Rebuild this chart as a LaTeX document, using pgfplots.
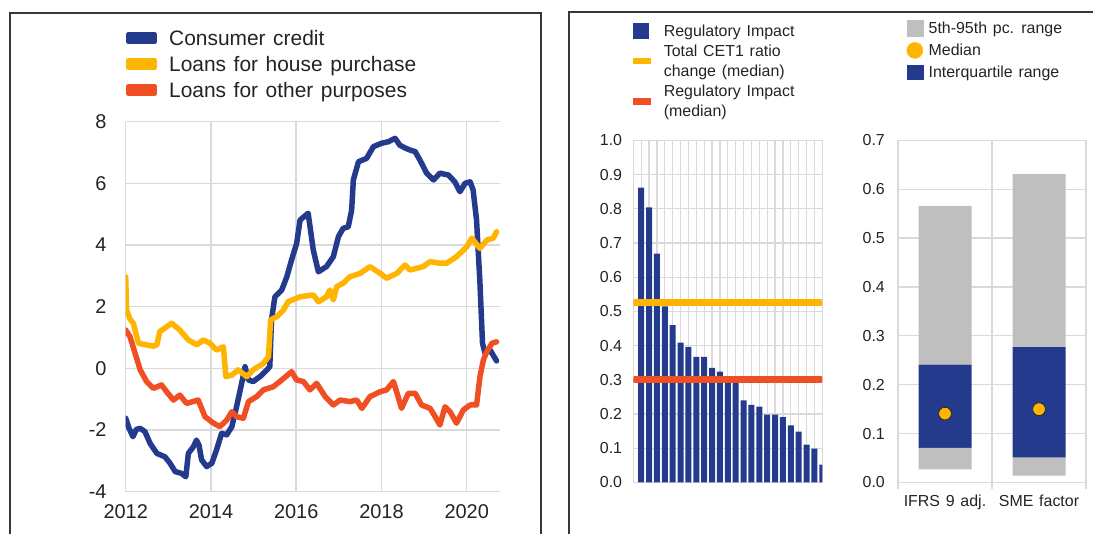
\documentclass[border=0pt]{standalone}
\usepackage{pgfplots}
\usepackage{pgfplotstable}
\pgfplotsset{compat=1.18}
\usepackage{fontspec}
\setmainfont{Liberation Sans}[WordSpace=1.3]

\definecolor{ecbblue}{RGB}{36,58,141}
\definecolor{ecbyellow}{RGB}{255,180,0}
\definecolor{ecbred}{RGB}{240,78,35}
\definecolor{rangegrey}{RGB}{191,191,191}
\definecolor{gridgrey}{RGB}{218,218,218}
\definecolor{framegrey}{RGB}{55,55,55}
\definecolor{textc}{RGB}{35,35,35}

\pgfplotstableread{
year value
2012.00 -1.62
2012.08 -1.95
2012.17 -2.22
2012.25 -1.98
2012.34 -1.95
2012.45 -2.05
2012.57 -2.43
2012.73 -2.76
2012.92 -2.87
2013.04 -3.08
2013.16 -3.35
2013.31 -3.41
2013.41 -3.52
2013.47 -2.76
2013.59 -2.54
2013.66 -2.33
2013.72 -2.50
2013.78 -2.97
2013.90 -3.19
2014.02 -3.08
2014.13 -2.65
2014.25 -2.11
2014.37 -2.16
2014.49 -1.89
2014.60 -1.25
2014.72 -0.49
2014.80 0.05
2014.88 -0.38
2014.99 -0.43
2015.15 -0.27
2015.27 -0.11
2015.38 0.05
2015.42 1.57
2015.50 2.32
2015.66 2.54
2015.78 2.97
2015.89 3.51
2016.01 4.05
2016.09 4.81
2016.28 5.03
2016.40 3.84
2016.52 3.13
2016.71 3.30
2016.87 3.62
2016.99 4.27
2017.10 4.54
2017.22 4.59
2017.30 5.13
2017.34 6.11
2017.46 6.70
2017.65 6.81
2017.81 7.19
2018.00 7.30
2018.16 7.35
2018.32 7.46
2018.43 7.24
2018.55 7.15
2018.67 7.08
2018.79 7.03
2018.90 6.76
2019.06 6.33
2019.22 6.11
2019.37 6.33
2019.57 6.27
2019.72 6.05
2019.84 5.73
2019.96 6.00
2020.08 6.05
2020.15 5.78
2020.23 4.81
2020.31 2.76
2020.37 0.81
2020.43 0.49
2020.55 0.59
2020.70 0.24
}\consumer

\pgfplotstableread{
year value
2012.00 2.97
2012.02 1.89
2012.10 1.60
2012.18 1.46
2012.30 0.81
2012.49 0.76
2012.65 0.72
2012.73 0.76
2012.80 1.19
2013.08 1.46
2013.27 1.24
2013.47 0.92
2013.67 0.76
2013.82 0.92
2013.98 0.81
2014.13 0.59
2014.29 0.70
2014.35 -0.27
2014.49 -0.22
2014.64 -0.05
2014.84 -0.27
2014.99 -0.05
2015.23 0.16
2015.35 0.38
2015.40 1.57
2015.54 1.67
2015.70 1.89
2015.81 2.16
2016.09 2.32
2016.40 2.38
2016.52 2.16
2016.71 2.32
2016.79 2.54
2016.87 2.22
2016.95 2.65
2017.10 2.76
2017.26 2.97
2017.50 3.08
2017.73 3.30
2017.97 3.08
2018.12 2.92
2018.36 3.08
2018.55 3.35
2018.67 3.19
2018.98 3.30
2019.14 3.46
2019.37 3.41
2019.53 3.41
2019.76 3.62
2020.00 3.94
2020.12 4.22
2020.31 3.89
2020.47 4.16
2020.62 4.22
2020.70 4.43
}\house

\pgfplotstableread{
year value
2012.00 1.24
2012.10 1.03
2012.22 0.49
2012.34 -0.05
2012.49 -0.43
2012.65 -0.65
2012.84 -0.54
2012.96 -0.76
2013.12 -1.03
2013.27 -0.87
2013.43 -1.14
2013.70 -1.03
2013.86 -1.57
2014.06 -1.78
2014.21 -1.89
2014.37 -1.68
2014.49 -1.41
2014.60 -1.57
2014.76 -1.62
2014.88 -1.08
2015.07 -0.92
2015.23 -0.70
2015.46 -0.60
2015.66 -0.38
2015.89 -0.11
2016.01 -0.38
2016.17 -0.43
2016.32 -0.70
2016.48 -0.49
2016.68 -0.92
2016.87 -1.19
2017.03 -1.03
2017.26 -1.08
2017.42 -1.03
2017.54 -1.30
2017.73 -0.92
2017.97 -0.76
2018.12 -0.70
2018.28 -0.43
2018.39 -0.92
2018.47 -1.30
2018.63 -0.81
2018.79 -0.81
2018.94 -1.19
2019.14 -1.30
2019.26 -1.57
2019.37 -1.84
2019.49 -1.25
2019.61 -1.41
2019.76 -1.78
2019.92 -1.35
2020.08 -1.19
2020.23 -1.19
2020.31 -0.27
2020.39 0.27
2020.47 0.54
2020.59 0.81
2020.70 0.86
}\other

\pgfplotstableread{
i v
1 0.862
2 0.804
3 0.669
4 0.515
5 0.460
6 0.409
7 0.396
8 0.367
9 0.367
10 0.335
11 0.324
12 0.300
13 0.300
14 0.240
15 0.227
16 0.222
17 0.198
18 0.198
19 0.191
20 0.167
21 0.149
22 0.111
23 0.099
24 0.052
}\bars

\pgfplotstableread{
x base low iqr high
0.5 0.027 0.044 0.170 0.325
1.5 0.014 0.037 0.226 0.354
}\ranges

\pgfplotstableread{
x median
0.5 0.141
1.5 0.150
}\medians

\begin{document}
\begin{tikzpicture}
\useasboundingbox (0bp,0bp) rectangle (1093bp,534bp);
\draw[framegrey, line width=1.5bp] (10bp,-10bp) -- (10bp,521.2bp) -- (541bp,521.2bp) -- (541bp,-10bp);
\draw[framegrey, line width=1.5bp] (569.2bp,-10bp) -- (569.2bp,522bp) -- (1110bp,522bp);

% ---------------- left panel ----------------
\begin{axis}[
  at={(125.7bp,42.4bp)}, anchor=south west,
  scale only axis, width=374.3bp, height=369.9bp,
  xmin=2012, xmax=2020.78, ymin=-4, ymax=8,
  xtick={2012,2014,2016,2018,2020}, ytick={-4,-2,0,2,4,6,8},
  axis x line*=bottom, axis y line*=left,
  axis line style={gridgrey, line width=1.5bp, -},
  grid=major, grid style={gridgrey, line width=1.5bp},
  major tick length=0pt,
  /pgf/number format/assume math mode=true,
  tick label style={font=\fontsize{20}{24}\selectfont, text=textc, inner sep=0pt},
  xticklabel style={/pgf/number format/1000 sep={}, anchor=north, yshift=-13bp},
  yticklabel style={anchor=east, xshift=-19bp},
  legend style={at={(0,1.252)}, anchor=north west, draw=none, fill=none,
    inner sep=0pt, outer sep=0pt, row sep=7bp,
    font=\fontsize{21}{24}\selectfont, text=textc,
    nodes={inner sep=0pt, text height=17bp, text depth=2bp},
    /tikz/every odd column/.append style={column sep=12bp}},
  legend cell align=left,
  legend image code/.code={\fill[#1] (0bp,-3.5bp) rectangle (26bp,3.5bp);},
  every axis plot/.append style={line width=5.5bp, line join=round, line cap=round},
]
\addplot[ecbblue] table[x=year,y=value]{\consumer};
\addlegendentry{Consumer credit}
\addplot[ecbyellow] table[x=year,y=value]{\house};
\addlegendentry{Loans for house purchase}
\addplot[ecbred] table[x=year,y=value]{\other};
\addlegendentry{Loans for other purposes}
\end{axis}

% ---------------- bar panel ----------------
\begin{axis}[
  at={(633.3bp,51.5bp)}, anchor=south west,
  scale only axis, width=189bp, height=342.2bp,
  xmin=0.5, xmax=24.5, ymin=0, ymax=1,
  ybar, bar width=6bp,
  xtick={0.5,1.5,...,24.5}, xticklabels={},
  ytick={0,0.1,0.2,0.3,0.4,0.5,0.6,0.7,0.8,0.9,1},
  axis line style={gridgrey, line width=1.2bp},
  grid=major, grid style={gridgrey, line width=1.2bp},
  major tick length=0pt,
  /pgf/number format/assume math mode=true,
  tick label style={font=\fontsize{16}{19}\selectfont, text=textc, inner sep=0pt},
  yticklabel style={anchor=east, xshift=-11bp, /pgf/number format/.cd, fixed, fixed zerofill, precision=1},
  legend style={at={(0,1.3498)}, anchor=north west, draw=none, fill=none,
    inner sep=0pt, outer sep=0pt, row sep=0.4bp,
    font=\fontsize{16}{19.3}\selectfont, text=textc,
    nodes={inner sep=0pt, text height=15.5bp, text depth=4.3bp},
    /tikz/every odd column/.append style={column sep=13.3bp}},
  legend cell align=left,
]
\addlegendimage{legend image code/.code={\fill[ecbblue] (0bp,-7.5bp) rectangle (15bp,7.5bp);}}
\addlegendentry{Regulatory Impact}
\addlegendimage{legend image code/.code={\path[draw=none, fill=none] (0bp,-1bp) rectangle (17bp,1bp); \fill[ecbyellow, overlay] (0bp,-12.5bp) rectangle (17bp,-7.5bp);}}
\addlegendentry{Total CET1 ratio}
\addlegendimage{legend image code/.code={\path[draw=none, fill=none] (0bp,-1bp) rectangle (17bp,1bp);}}
\addlegendentry{change (median)}
\addlegendimage{legend image code/.code={\path[draw=none, fill=none] (0bp,-1bp) rectangle (17bp,1bp); \fill[ecbred, overlay] (0bp,-13bp) rectangle (17bp,-7bp);}}
\addlegendentry{Regulatory Impact}
\addlegendimage{legend image code/.code={\path[draw=none, fill=none] (0bp,-1bp) rectangle (17bp,1bp);}}
\addlegendentry{(median)}
\addplot[fill=ecbblue, draw=none, forget plot] table[x=i,y=v]{\bars};
\addplot[sharp plot, ecbyellow, line width=6.5bp, line cap=round, forget plot] coordinates {(0.7,0.526) (24.3,0.526)};
\addplot[sharp plot, ecbred, line width=6.5bp, line cap=round, forget plot] coordinates {(0.7,0.301) (24.3,0.301)};
\end{axis}

% ---------------- range panel ----------------
\begin{axis}[
  at={(898bp,51.5bp)}, anchor=south west,
  scale only axis, width=188bp, height=342.2bp,
  xmin=0, xmax=2, ymin=0, ymax=0.7,
  ybar stacked, bar width=53bp,
  xtick={0.5,1.5}, xticklabels={IFRS 9 adj., SME factor},
  minor xtick={0,1,2},
  ytick={0,0.1,0.2,0.3,0.4,0.5,0.6,0.7},
  xmajorgrids=false, xminorgrids=true, ymajorgrids=true,
  grid style={gridgrey, line width=1.2bp},
  minor grid style={gridgrey, line width=1.2bp},
  axis line style={gridgrey, line width=1.2bp},
  major tick length=0pt, minor tick length=7bp, tick align=outside, tick pos=left,
  minor tick style={gridgrey, line width=1.2bp},
  /pgf/number format/assume math mode=true,
  tick label style={font=\fontsize{16}{19}\selectfont, text=textc, inner sep=0pt},
  xticklabel style={anchor=north, yshift=-12bp},
  yticklabel style={anchor=east, xshift=-13bp, /pgf/number format/.cd, fixed, fixed zerofill, precision=1},
  legend style={at={(0.046,1.3516)}, anchor=north west, draw=none, fill=none,
    inner sep=0pt, outer sep=0pt, row sep=5.8bp,
    font=\fontsize{16}{19}\selectfont, text=textc,
    nodes={inner sep=0pt, text height=13.5bp, text depth=2.5bp},
    /tikz/every odd column/.append style={column sep=5.6bp}},
  legend cell align=left,
]
\addlegendimage{legend image code/.code={\fill[rangegrey] (0bp,-8bp) rectangle (16bp,8bp);}}
\addlegendentry{5th-95th pc. range}
\addlegendimage{legend image code/.code={\fill[ecbyellow] (8bp,0bp) circle (8bp);}}
\addlegendentry{Median}
\addlegendimage{legend image code/.code={\fill[ecbblue] (0bp,-7bp) rectangle (16bp,7bp);}}
\addlegendentry{Interquartile range}
\addplot[draw=none, fill=none] table[x=x,y=base]{\ranges};
\addplot[draw=none, fill=rangegrey] table[x=x,y=low]{\ranges};
\addplot[draw=none, fill=ecbblue] table[x=x,y=iqr]{\ranges};
\addplot[draw=none, fill=rangegrey] table[x=x,y=high]{\ranges};
\end{axis}

\begin{axis}[
  at={(898bp,51.5bp)}, anchor=south west,
  scale only axis, width=188bp, height=342.2bp,
  xmin=0, xmax=2, ymin=0, ymax=0.7,
  hide axis,
]
\addplot[only marks, mark=*, mark size=6.3bp, mark options={draw=none, fill=ecbyellow}] table[x=x,y=median]{\medians};
\end{axis}
\end{tikzpicture}
\end{document}
